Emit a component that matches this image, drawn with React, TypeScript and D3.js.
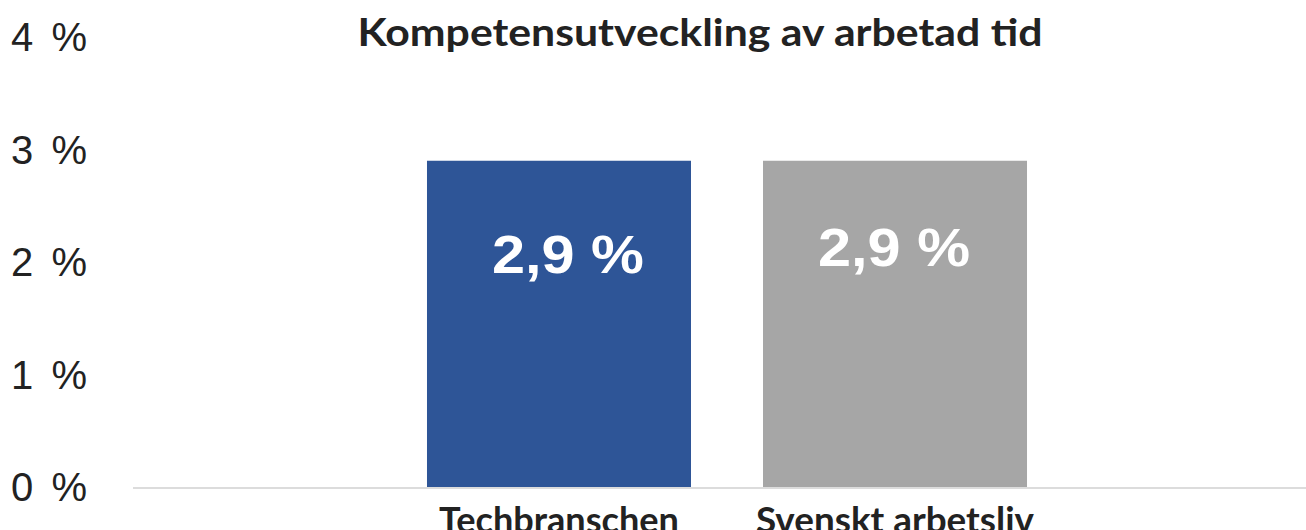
import React, { useRef, useEffect } from 'react';
import * as d3 from 'd3';

// chart data
const categories = ['Techbranschen', 'Svenskt arbetsliv'];
const values = [2.9, 2.9];
const valueLabels = ['2,9 %', '2,9 %'];
const barColors = ['#2e5597', '#a6a6a6'];
const yTicks = [0, 1, 2, 3, 4];
const title = 'Kompetensutveckling av arbetad tid';

const W = 1306;
const H = 530;

const App = () => {
  const ref = useRef<SVGSVGElement | null>(null);

  useEffect(() => {
    if (!ref.current) return;
    const svg = d3.select(ref.current);
    svg.selectAll('*').remove();

    // scales
    const y = d3.scaleLinear().domain([0, 4]).range([487, 37]);
    const x = d3
      .scaleBand()
      .domain(categories)
      .range([391, 1063])
      .paddingInner(0.2143)
      .paddingOuter(0.1071);

    // title
    svg
      .append('text')
      .attr('x', 700)
      .attr('y', 46)
      .attr('text-anchor', 'middle')
      .attr('font-family', 'Lato, sans-serif')
      .attr('font-weight', 700)
      .attr('font-size', 38)
      .attr('fill', '#222')
      .attr('textLength', 685)
      .attr('lengthAdjust', 'spacingAndGlyphs')
      .text(title);

    // y tick labels
    svg
      .append('g')
      .selectAll('text')
      .data(yTicks)
      .join('text')
      .attr('x', 87)
      .attr('y', (d) => y(d))
      .attr('dy', '0.36em')
      .attr('text-anchor', 'end')
      .attr('font-family', '"Liberation Sans", Arial, sans-serif')
      .attr('font-size', 40)
      .attr('fill', '#222')
      .attr('textLength', 76)
      .attr('lengthAdjust', 'spacing')
      .text((d) => `${d} %`);

    // baseline
    svg
      .append('line')
      .attr('x1', 133)
      .attr('x2', W)
      .attr('y1', y(0) + 1)
      .attr('y2', y(0) + 1)
      .attr('stroke', '#dcdcdc')
      .attr('stroke-width', 2);

    // bars
    svg
      .append('g')
      .selectAll('rect')
      .data(values)
      .join('rect')
      .attr('x', (_, i) => x(categories[i]) as number)
      .attr('y', (d) => y(d))
      .attr('width', x.bandwidth())
      .attr('height', (d) => y(0) - y(d))
      .attr('fill', (_, i) => barColors[i]);

    // value labels inside bars
    const labelDy = [112, 105];
    const labelDx = [9, -1];
    svg
      .append('g')
      .selectAll('text')
      .data(values)
      .join('text')
      .attr('x', (_, i) => (x(categories[i]) as number) + x.bandwidth() / 2 + labelDx[i])
      .attr('y', (d, i) => y(d) + labelDy[i])
      .attr('text-anchor', 'middle')
      .attr('font-family', '"Liberation Sans", Arial, sans-serif')
      .attr('font-weight', 700)
      .attr('font-size', 54)
      .attr('fill', '#fff')
      .attr('textLength', 152)
      .attr('lengthAdjust', 'spacingAndGlyphs')
      .text((_, i) => valueLabels[i]);

    // category labels
    svg
      .append('g')
      .selectAll('text')
      .data(categories)
      .join('text')
      .attr('x', (d) => (x(d) as number) + x.bandwidth() / 2)
      .attr('y', 533)
      .attr('text-anchor', 'middle')
      .attr('font-family', 'Lato, sans-serif')
      .attr('font-weight', 700)
      .attr('font-size', 36)
      .attr('fill', '#222')
      .attr('textLength', (d, i) => (i === 0 ? 240 : 278))
      .attr('lengthAdjust', 'spacingAndGlyphs')
      .text((d) => d);

    return () => {
      svg.selectAll('*').remove();
    };
  }, []);

  return (
    <svg
      ref={ref}
      width={W}
      height={H}
      style={{ position: 'absolute', left: 0, top: 0, background: '#fff' }}
    />
  );
};

export default App;
